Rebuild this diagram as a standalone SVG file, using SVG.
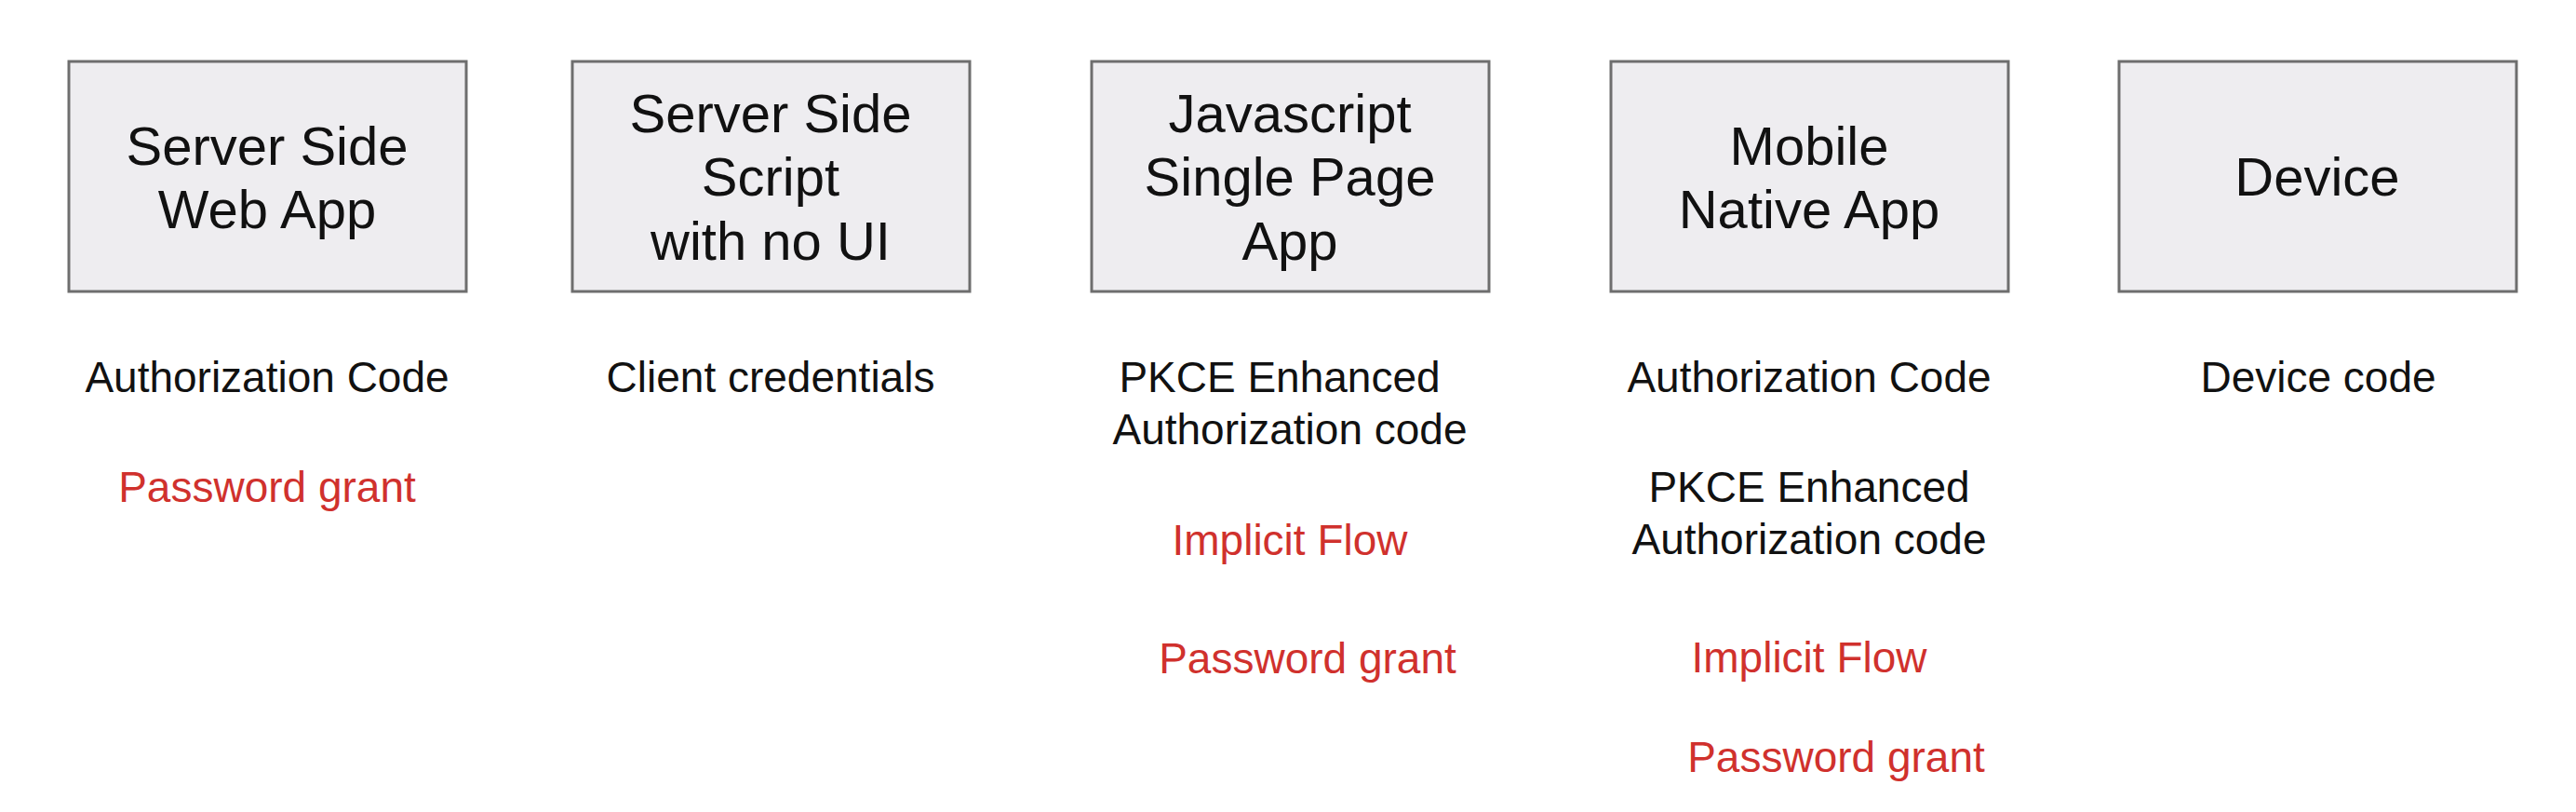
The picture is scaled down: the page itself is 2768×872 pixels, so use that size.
<svg xmlns="http://www.w3.org/2000/svg" width="2768" height="872" viewBox="0 0 2768 872">
<style>
.box{fill:#eeedf0;stroke:#6e6e6e;stroke-width:3}
.t{font-family:"Liberation Sans",Arial,sans-serif;font-size:58px;fill:#111;text-anchor:middle}
.l{font-family:"Liberation Sans",Arial,sans-serif;font-size:46px;fill:#111;text-anchor:middle}
.r{fill:#d0312d}
</style>
<rect width="2768" height="872" fill="#ffffff"/>
<g id="node-server-web-app">
<rect class="box" x="74" y="66" width="427" height="247"/>
<text class="t" x="287" y="177">Server Side</text>
<text class="t" x="287" y="245">Web App</text>
</g>
<g id="node-server-script">
<rect class="box" x="615" y="66" width="427" height="247"/>
<text class="t" x="828" y="142">Server Side</text>
<text class="t" x="828" y="210">Script</text>
<text class="t" x="828" y="279">with no UI</text>
</g>
<g id="node-spa">
<rect class="box" x="1173" y="66" width="427" height="247"/>
<text class="t" x="1386" y="142">Javascript</text>
<text class="t" x="1386" y="210">Single Page</text>
<text class="t" x="1386" y="279">App</text>
</g>
<g id="node-mobile">
<rect class="box" x="1731" y="66" width="427" height="247"/>
<text class="t" x="1944" y="177">Mobile</text>
<text class="t" x="1944" y="245">Native App</text>
</g>
<g id="node-device">
<rect class="box" x="2277" y="66" width="427" height="247"/>
<text class="t" x="2490" y="210">Device</text>
</g>
<g id="connectors"></g>
<g id="labels-col1">
<text class="l" x="287" y="421">Authorization Code</text>
<text class="l r" x="287" y="539">Password grant</text>
</g>
<g id="labels-col2">
<text class="l" x="828" y="421">Client credentials</text>
</g>
<g id="labels-col3">
<text class="l" x="1375" y="421">PKCE Enhanced</text>
<text class="l" x="1386" y="477">Authorization code</text>
<text class="l r" x="1386" y="596">Implicit Flow</text>
<text class="l r" x="1405" y="723">Password grant</text>
</g>
<g id="labels-col4">
<text class="l" x="1944" y="421">Authorization Code</text>
<text class="l" x="1944" y="539">PKCE Enhanced</text>
<text class="l" x="1944" y="595">Authorization code</text>
<text class="l r" x="1944" y="722">Implicit Flow</text>
<text class="l r" x="1973" y="829">Password grant</text>
</g>
<g id="labels-col5">
<text class="l" x="2491" y="421">Device code</text>
</g>
</svg>
